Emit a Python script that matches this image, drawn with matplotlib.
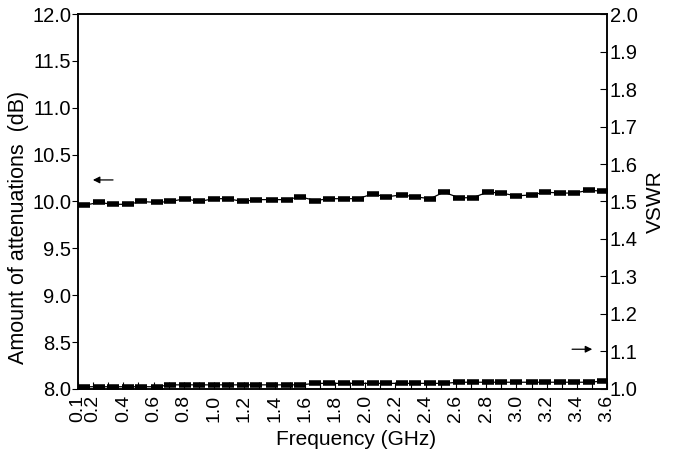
import matplotlib
matplotlib.use("Agg")
import matplotlib.pyplot as plt

plt.rcParams['font.family'] = ['Liberation Sans', 'DejaVu Sans']

# frequencies of the measured points (GHz)
freq = [0.14, 0.24, 0.33, 0.43, 0.52, 0.62, 0.71, 0.81, 0.90, 1.00,
        1.09, 1.19, 1.28, 1.38, 1.48, 1.57, 1.67, 1.76, 1.86, 1.95,
        2.05, 2.14, 2.24, 2.33, 2.43, 2.52, 2.62, 2.71, 2.81, 2.90,
        3.00, 3.10, 3.19, 3.29, 3.38, 3.48, 3.57]

attenuation = [9.96, 9.99, 9.97, 9.97, 10.00, 9.99, 10.00, 10.03, 10.00, 10.03,
               10.03, 10.00, 10.02, 10.02, 10.02, 10.05, 10.01, 10.03, 10.03, 10.03,
               10.08, 10.05, 10.07, 10.05, 10.03, 10.10, 10.04, 10.04, 10.10, 10.09,
               10.06, 10.07, 10.10, 10.09, 10.09, 10.12, 10.11]

vswr = [1.006, 1.006, 1.006, 1.006, 1.006, 1.006, 1.011, 1.011, 1.011, 1.011,
        1.011, 1.011, 1.011, 1.011, 1.011, 1.011, 1.015, 1.015, 1.015, 1.015,
        1.015, 1.015, 1.015, 1.015, 1.015, 1.015, 1.018, 1.018, 1.018, 1.018,
        1.018, 1.018, 1.018, 1.018, 1.018, 1.018, 1.021]

xticks = [0.1, 0.2, 0.3, 0.4, 0.5, 0.6, 0.7, 0.8, 0.9, 1.0, 1.1, 1.2,
          1.3, 1.4, 1.5, 1.6, 1.7, 1.8, 1.9, 2.0, 2.1, 2.2, 2.3, 2.4,
          2.5, 2.6, 2.7, 2.8, 2.9, 3.0, 3.1, 3.2, 3.3, 3.4, 3.5, 3.6]
xlabels = ['0.1', '0.2', '', '0.4', '', '0.6', '', '0.8', '', '1.0', '', '1.2',
           '', '1.4', '', '1.6', '', '1.8', '', '2.0', '', '2.2', '', '2.4',
           '', '2.6', '', '2.8', '', '3.0', '', '3.2', '', '3.4', '', '3.6']
left_ticks = [8.0, 8.5, 9.0, 9.5, 10.0, 10.5, 11.0, 11.5, 12.0]
right_ticks = [1.0, 1.1, 1.2, 1.3, 1.4, 1.5, 1.6, 1.7, 1.8, 1.9, 2.0]

fig = plt.figure(figsize=(6.86, 4.58), dpi=100)
ax = fig.add_axes([0.1137, 0.1507, 0.7713, 0.8187])
ax2 = ax.twinx()

style = dict(color='black', lw=0.9, marker='_', ms=9, mew=4)
ax.plot(freq, attenuation, **style)
ax2.plot(freq, vswr, **style)

ax.set_xlim(0.1, 3.6)
ax.set_ylim(8.0, 12.0)
ax2.set_ylim(1.0, 2.0)

fs = 14.5
ax.set_xticks(xticks)
ax.set_xticklabels(xlabels, rotation=90, fontsize=14)
ax.set_yticks(left_ticks)
ax.set_yticklabels([f"{v:.1f}" for v in left_ticks], fontsize=fs)
ax2.set_yticks(right_ticks)
ax2.set_yticklabels([f"{v:.1f}" for v in right_ticks], fontsize=fs)

ax.tick_params(axis='x', direction='in', length=5, width=0.8, pad=4)
ax.tick_params(axis='y', direction='out', length=4, width=0.8, pad=1)
ax2.tick_params(axis='y', direction='in', length=5, width=0.8, pad=2)

for a in (ax, ax2):
    for s in a.spines.values():
        s.set_linewidth(1.1)

ax.set_xlabel("Frequency (GHz)", fontsize=15)
ax.xaxis.set_label_coords(0.526, -0.11)
ax.set_ylabel("Amount of attenuations  (dB)", fontsize=15.5)
ax.yaxis.set_label_coords(-0.092, 0.43)
ax2.set_ylabel("VSWR", fontsize=15, labelpad=6)

arrow = dict(arrowstyle='-|>', color='black', lw=0.9, mutation_scale=10)
ax.annotate('', xy=(0.18, 10.23), xytext=(0.35, 10.23), arrowprops=arrow)
ax2.annotate('', xy=(3.52, 1.106), xytext=(3.35, 1.106), arrowprops=arrow)

fig.savefig("out.png", dpi=100)
